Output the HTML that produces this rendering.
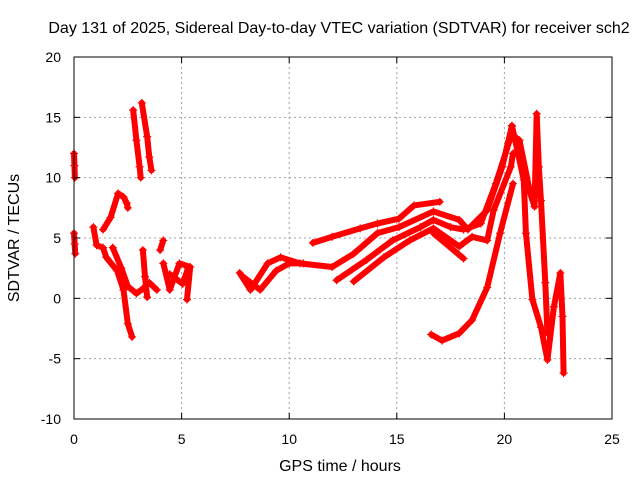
<!DOCTYPE html>
<html><head><meta charset="utf-8"><style>
body{margin:0;background:#fff}
svg{display:block;font-family:"Liberation Sans",sans-serif}
</style></head><body>
<svg id="chart" width="640" height="480">
<rect width="640" height="480" fill="#fff"/>
<text x="339" y="33" text-anchor="middle" font-size="16">Day 131 of 2025, Sidereal Day-to-day VTEC variation (SDTVAR) for receiver sch2</text>
<g id="grid"></g>
<g id="data"></g>
<rect x="74" y="57" width="538" height="362" fill="none" stroke="#000" stroke-width="1"/>
<g id="ticks"></g>
<text x="340" y="471" text-anchor="middle" font-size="16">GPS time / hours</text>
<text transform="translate(19,238) rotate(-90)" text-anchor="middle" font-size="16">SDTVAR / TECUs</text>
</svg>
<script>
const xTicks=[0,5,10,15,20,25];
const yTicks=[-10,-5,0,5,10,15,20];
const track1=[[0,12],[0.02,11],[0.04,10]];
const track2=[[0,5.4],[0.03,4.5],[0.06,3.7]];
const track3=[[0.9,5.9],[1.05,4.4],[1.35,4.2],[1.5,3.4],[2.0,2.3],[2.3,0.7],[2.5,-2.1],[2.7,-3.2]];
const track4=[[1.35,5.7],[1.7,6.7],[2.05,8.7],[2.3,8.4],[2.45,7.9],[2.5,7.5]];
const track5=[[1.8,4.2],[2.2,2.5],[2.5,1.0],[2.9,0.4],[3.2,0.8],[3.5,1.3],[3.85,0.7]];
const track6=[[3.2,4.0],[3.3,1.8],[3.4,0.1]];
const track7=[[2.75,15.6],[2.9,13.1],[3.05,10.9],[3.1,10]];
const track8=[[3.15,16.2],[3.4,13.4],[3.5,11.7],[3.6,10.6]];
const track9=[[4.0,4.0],[4.15,4.8]];
const track10=[[4.15,2.9],[4.45,0.7],[4.9,2.9],[5.4,2.6],[5.25,-0.1]];
const track11=[[4.45,2.0],[5.05,1.2],[5.3,2.5]];
const track12=[[7.7,2.1],[8.2,0.7],[9.0,2.9],[9.6,3.4],[10.5,2.9],[12.0,2.6],[13.0,3.7],[14.1,5.4],[15.1,5.9],[16.7,7.2],[17.9,6.5],[18.3,5.7],[19.2,7.3],[19.9,10.9],[20.35,14.3]];
const track13=[[7.85,1.8],[8.65,0.7],[9.4,2.3],[10.0,2.9],[10.65,2.9]];
const track14=[[11.1,4.6],[12.0,5.1],[13.3,5.8],[14.1,6.2],[15.1,6.6],[15.8,7.7],[17.0,8.0]];
const track15=[[12.2,1.5],[13.6,3.2],[14.8,4.8],[16.1,5.9],[16.7,6.5],[17.5,5.9],[18.1,5.7],[18.9,6.2],[19.6,9.5],[20.3,13.4]];
const track16=[[13.0,1.4],[14.4,3.4],[15.6,4.8],[16.7,5.8],[17.9,4.3],[18.5,5.1],[19.2,4.8],[19.5,7.3],[20.3,10.9],[20.4,12.0]];
const track17=[[16.7,5.4],[18.1,3.3]];
const track18=[[16.6,-3.0],[17.1,-3.5],[17.9,-2.9],[18.5,-1.8],[19.2,0.9],[19.8,5.4],[20.4,9.5]];
const track19=[[20.35,14.3],[20.6,12.3],[20.9,9.8],[21.0,5.4],[21.3,-0.1],[21.7,-2.4],[22.0,-5.1],[22.3,-0.7],[22.6,2.1],[22.7,-1.5],[22.75,-6.2]];
const track20=[[20.4,13.5],[20.7,13.1],[21.2,8.7],[21.4,7.6],[21.5,15.3],[21.6,10.9],[21.7,8.1],[21.9,1.3],[22.0,-2.9]];
const tracks=[track1,track2,track3,track4,track5,track6,track7,track8,track9,track10,track11,track12,track13,track14,track15,track16,track17,track18,track19,track20];

const NS="http://www.w3.org/2000/svg";
const X0=74,X1=612,Y0=419,Y1=57;
function sx(v){return X0+(v-0)/(25-0)*(X1-X0);}
function sy(v){return Y0-(v+10)/(30)*(Y0-Y1);}
function mk(tag,attrs,parent){const e=document.createElementNS(NS,tag);for(const k in attrs)e.setAttribute(k,attrs[k]);parent.appendChild(e);return e;}
const grid=document.getElementById('grid'),ticks=document.getElementById('ticks'),data=document.getElementById('data');
xTicks.forEach(t=>{
  const x=sx(t);
  if(t>0&&t<25){const g=mk('line',{x1:x,x2:x,y1:Y1,y2:Y0,stroke:'#a0a0a0','stroke-dasharray':'2,3'},grid);
  
  }
  mk('line',{x1:x,x2:x,y1:Y0,y2:Y0-6,stroke:'#000'},ticks);
  mk('line',{x1:x,x2:x,y1:Y1,y2:Y1+6,stroke:'#000'},ticks);
  const l=mk('text',{x:x,y:444,'text-anchor':'middle','font-size':'14'},ticks);
  l.textContent=t;
  
  
});
yTicks.forEach(t=>{
  const y=sy(t);
  if(t>-10&&t<20){const g=mk('line',{x1:X0,x2:X1,y1:y,y2:y,stroke:'#a0a0a0','stroke-dasharray':'2,3'},grid);
  
  }
  mk('line',{x1:X0,x2:X0+6,y1:y,y2:y,stroke:'#000'},ticks);
  mk('line',{x1:X1,x2:X1-6,y1:y,y2:y,stroke:'#000'},ticks);
  const l=mk('text',{x:61,y:y+5,'text-anchor':'end','font-size':'14'},ticks);
  l.textContent=t;
  
  
});
tracks.forEach(tr=>{
  const p=mk('polyline',{points:tr.map(d=>sx(d[0])+','+sy(d[1])).join(' '),fill:'none',stroke:'#f00','stroke-width':'6','stroke-linejoin':'round','stroke-linecap':'round'},data);
  
  
  tr.forEach(d=>{
    const x=sx(d[0]),y=sy(d[1]);
    const m=mk('path',{d:`M${x-4},${y}H${x+4}M${x},${y-4}V${y+4}`,stroke:'#f00','stroke-width':'1.2'},data);
    
    
  });
});
</script>
</body></html>
